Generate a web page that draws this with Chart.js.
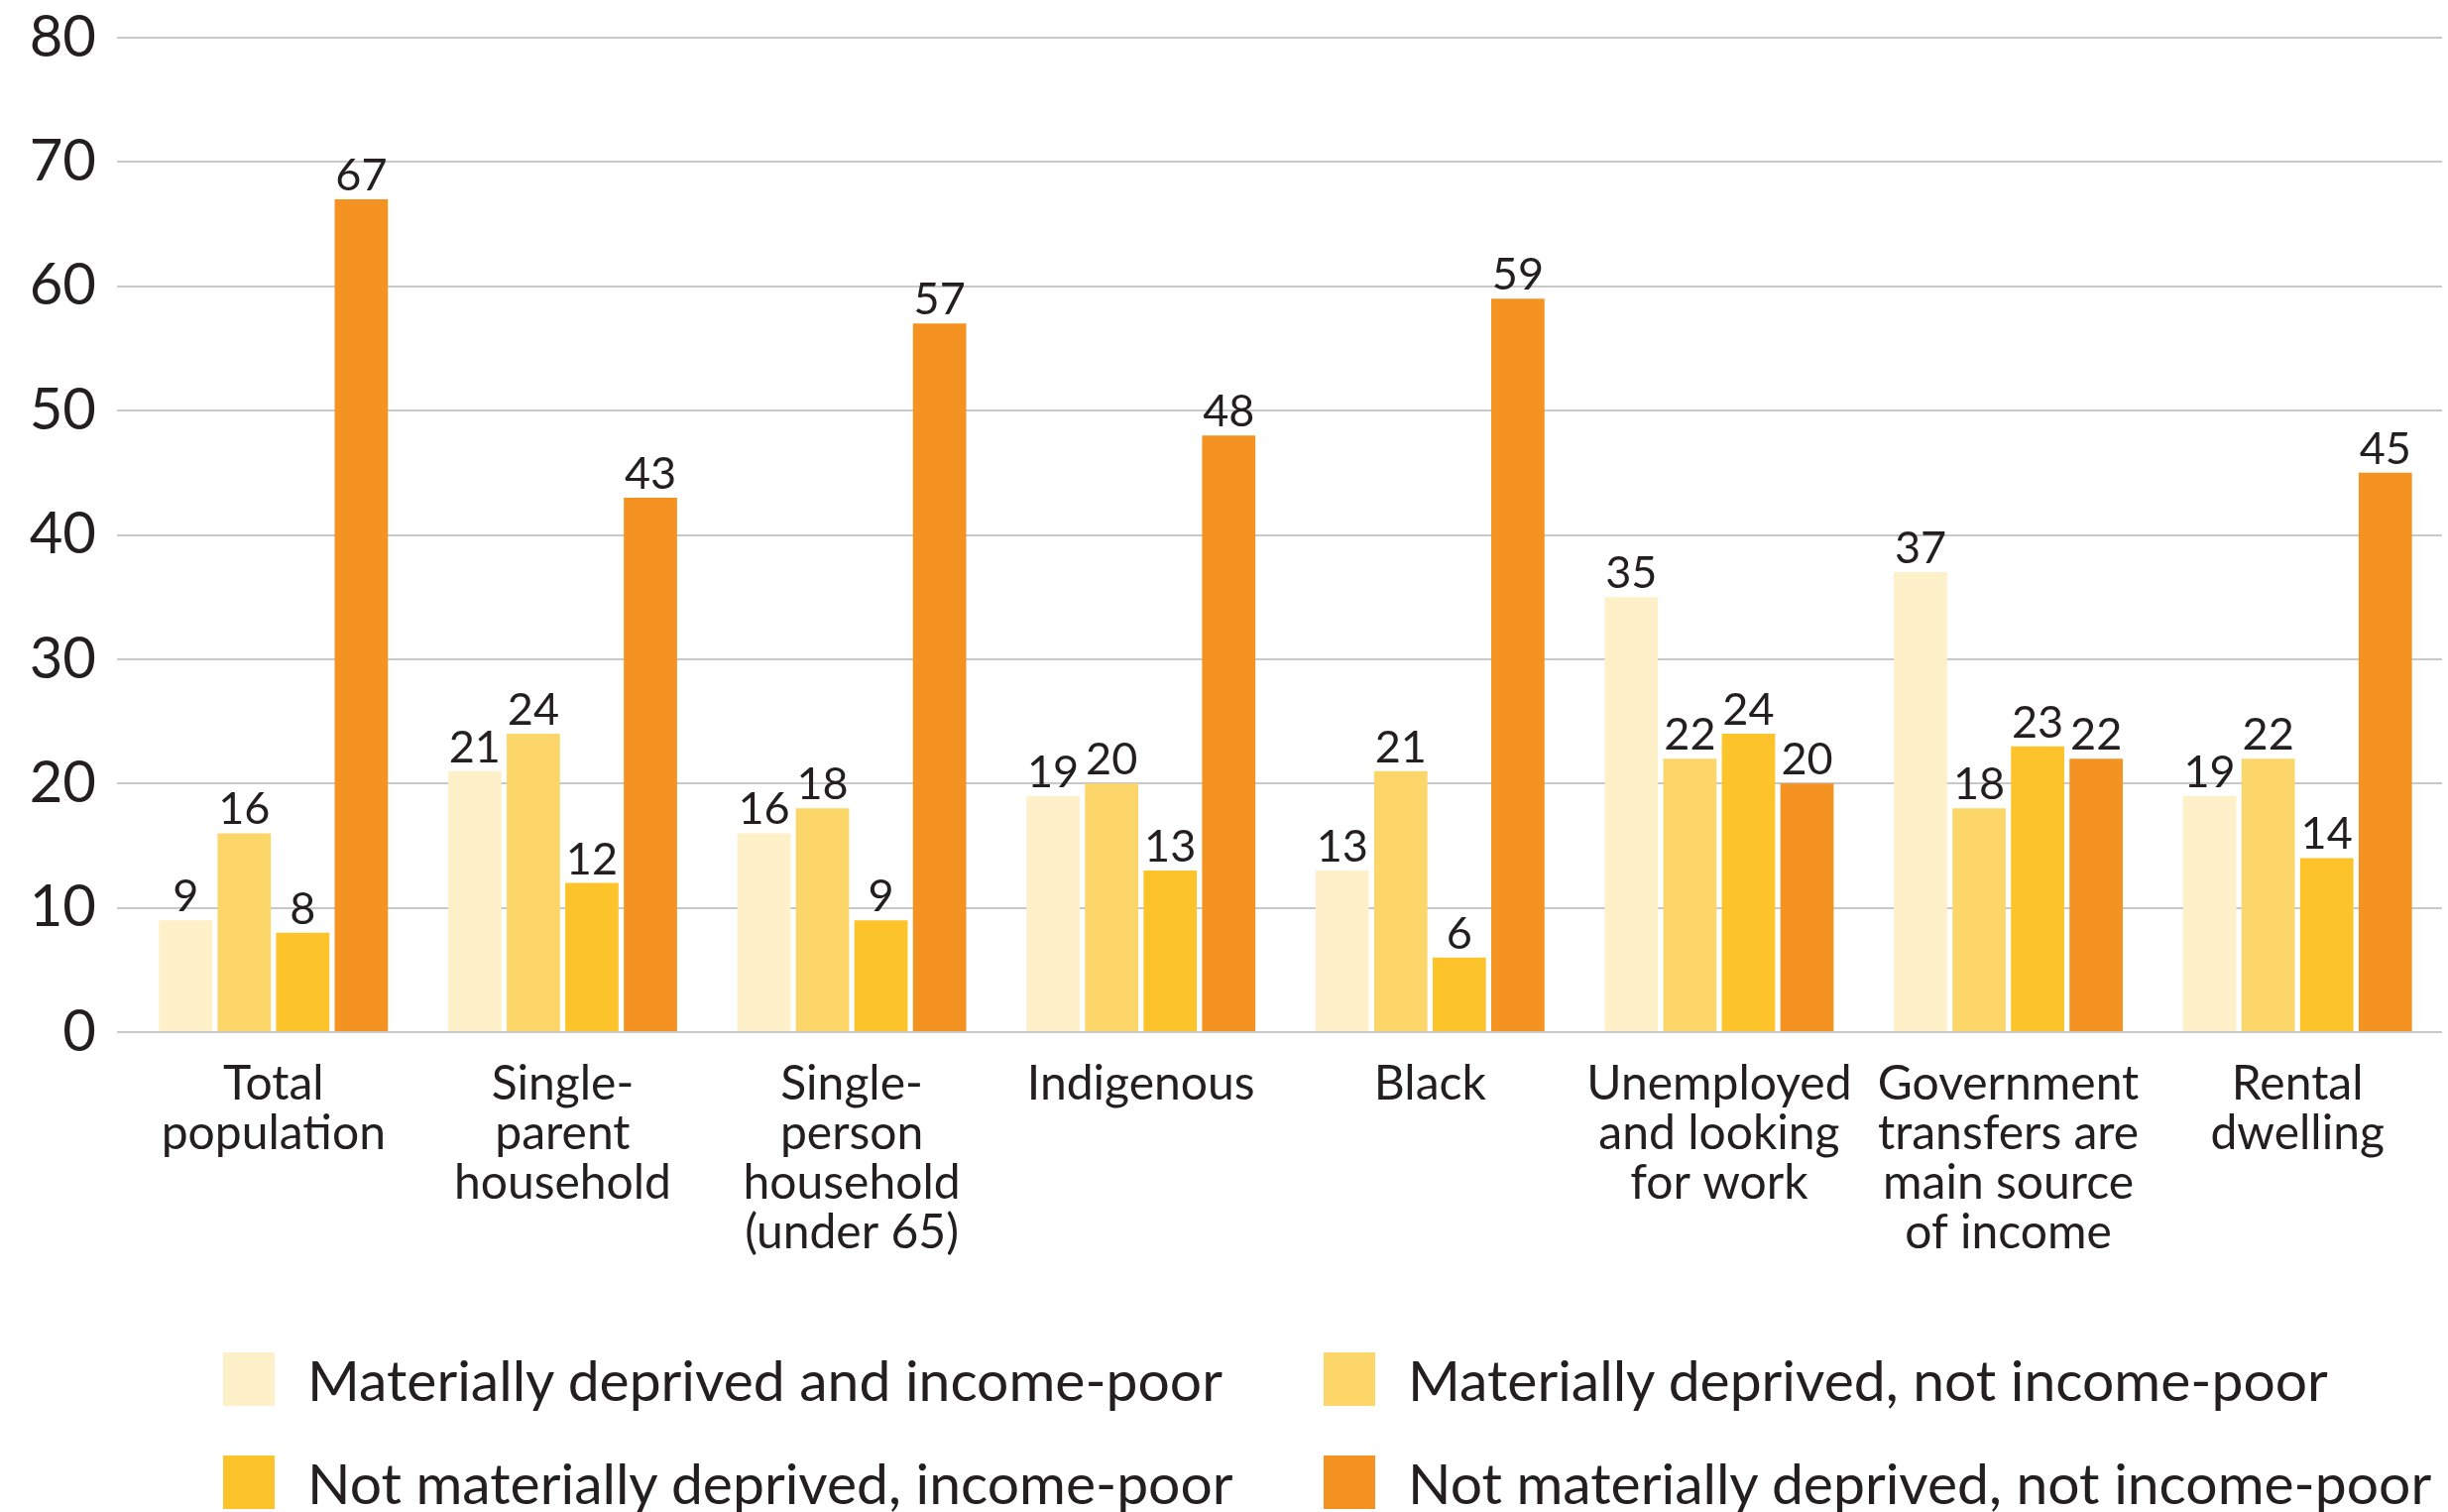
<!DOCTYPE html>
<html>
<head>
<meta charset="utf-8">
<script src="https://cdn.jsdelivr.net/npm/chart.js@4.4.1/dist/chart.umd.min.js"></script>
<style>
  html, body { margin: 0; padding: 0; background: #fff; }
  body { width: 2469px; height: 1525px; position: relative; overflow: hidden; font-family: Lato, sans-serif; color: #231f20; }
  #wrap { position: absolute; left: 0; top: 0; width: 2469px; height: 1271px; }
  .legend { position: absolute; left: 0; top: 0; }
  .item { position: absolute; display: flex; align-items: center; font-size: 57px; white-space: nowrap; }
  .box { width: 52px; height: 54px; margin-right: 33px; }
</style>
</head>
<body>
<div id="wrap"><canvas id="chart"></canvas></div>
<div class="legend" id="legend"></div>
<script>
const categories = [
    ["Total", "population"],
    ["Single-", "parent", "household"],
    ["Single-", "person", "household", "(under 65)"],
    ["Indigenous"],
    ["Black"],
    ["Unemployed", "and looking", "for work"],
    ["Government", "transfers are", "main source", "of income"],
    ["Rental", "dwelling"]
];

const seriesNames = [
    "Materially deprived and income-poor",
    "Materially deprived, not income-poor",
    "Not materially deprived, income-poor",
    "Not materially deprived, not income-poor"
];

const deprivedPoor = [9, 21, 16, 19, 13, 35, 37, 19];
const deprivedNotPoor = [16, 24, 18, 20, 21, 22, 18, 22];
const notDeprivedPoor = [8, 12, 9, 13, 6, 24, 23, 14];
const notDeprivedNotPoor = [67, 43, 57, 48, 59, 20, 22, 45];

const yTicks = [0, 10, 20, 30, 40, 50, 60, 70, 80];

const colors = ["#FEF0C9", "#FDD66A", "#FDC32B", "#F59322"];
const seriesValues = [deprivedPoor, deprivedNotPoor, notDeprivedPoor, notDeprivedNotPoor];

// value labels above each bar
const barLabels = {
    id: "barLabels",
    afterDatasetsDraw(chart) {
        const ctx = chart.ctx;
        ctx.save();
        ctx.font = "45px Lato";
        ctx.fillStyle = "#231f20";
        ctx.textAlign = "center";
        ctx.textBaseline = "alphabetic";
        chart.data.datasets.forEach((ds, i) => {
            chart.getDatasetMeta(i).data.forEach((bar, j) => {
                ctx.fillText(String(ds.data[j]), bar.x, bar.y - 9);
            });
        });
        ctx.restore();
    }
};

const ctx = document.getElementById("chart").getContext("2d");

new Chart(ctx, {
    type: "bar",
    data: {
        labels: categories,
        datasets: seriesValues.map((vals, i) => ({
            label: seriesNames[i],
            data: vals,
            backgroundColor: colors[i],
            borderWidth: 0,
            categoryPercentage: 0.81,
            barPercentage: 0.91
        }))
    },
    options: {
        responsive: true,
        maintainAspectRatio: false,
        animation: false,
        layout: { padding: { top: 0, right: 6, left: 0, bottom: 0 } },
        plugins: {
            legend: { display: false },
            tooltip: { enabled: false }
        },
        scales: {
            x: {
                grid: { display: false },
                border: { display: false },
                ticks: {
                    color: "#231f20",
                    font: { family: "Lato", size: 48, lineHeight: 1.04 },
                    padding: 20,
                    maxRotation: 0,
                    autoSkip: false
                },
                afterFit(scale) { scale.height = 230; }
            },
            y: {
                min: 0,
                max: 80,
                afterBuildTicks(scale) {
                    scale.ticks = yTicks.map(v => ({ value: v }));
                },
                grid: { color: "#c8c8c8", lineWidth: 2, tickLength: 12 },
                border: { display: false },
                ticks: {
                    color: "#231f20",
                    font: { family: "Lato", size: 58 },
                    padding: 21
                },
                afterFit(scale) {
                    scale.width = 130;
                    scale.paddingTop = 38;
                }
            }
        }
    },
    plugins: [barLabels]
});

// legend in a 2 x 2 grid
const legendPos = [[225, 1357], [1335, 1357], [225, 1461], [1335, 1461]];
const legend = document.getElementById("legend");
seriesNames.forEach((name, i) => {
    const item = document.createElement("div");
    item.className = "item";
    item.style.left = legendPos[i][0] + "px";
    item.style.top = legendPos[i][1] + "px";
    item.innerHTML = '<div class="box" style="background:' + colors[i] + '"></div><span>' + name + '</span>';
    legend.appendChild(item);
});
</script>
</body>
</html>
